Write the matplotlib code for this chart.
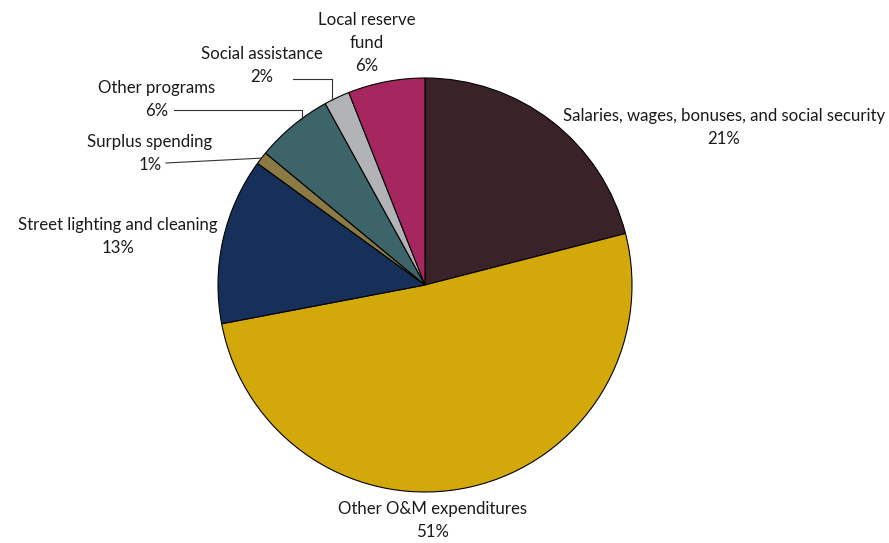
import matplotlib
matplotlib.use('Agg')
import numpy as np
import matplotlib.pyplot as plt

plt.rcParams['font.family'] = ['Lato', 'DejaVu Sans']

labels = ['Salaries, wages, bonuses, and social security', 'Other O&M expenditures',
          'Street lighting and cleaning', 'Surplus spending', 'Other programs',
          'Social assistance', 'Local reserve\nfund']
values = [21, 51, 13, 1, 6, 2, 6]
colors = ['#3a2328', '#d3a80a', '#17305a', '#8c7a45', '#3d6468', '#b1b3b6', '#a6275f']

W, H = 889, 543
CX, CY, R = 425, 285, 207

fig = plt.figure(figsize=(W / 100, H / 100), dpi=100)
ax = fig.add_axes([0, 0, 1, 1])

ax.pie(values, colors=colors, startangle=90, counterclock=False,
       center=(CX, H - CY), radius=R,
       wedgeprops=dict(edgecolor='black', linewidth=0.8))
ax.set_xlim(0, W)
ax.set_ylim(0, H)
ax.set_aspect('equal')
ax.axis('off')

# label positions in pixel coords (x center, y center of first line)
pos = [(724, 116), (432, 509), (118, 225), (150, 142), (157, 88), (262, 54), (367, 20)]
for lab, v, (x, y) in zip(labels, values, pos):
    ax.text(x, H - (y - 8), lab + '\n%d%%' % v, ha='center', va='top', fontsize=12.1,
            linespacing=1.55, color='#1a1a1a')

def edge_y(x):
    return CY - np.sqrt(R ** 2 - (x - CX) ** 2)

# leader lines
lc = dict(color='#333333', linewidth=0.8)
# social assistance
ax.plot([293, 332, 332], [H - 79, H - 79, H - edge_y(332)], **lc)
# other programs
ax.plot([174, 302, 302], [H - 110, H - 110, H - edge_y(302)], **lc)
# surplus spending
ang = np.deg2rad(90 - 360 * (sum(values[:3]) + values[3] / 2) / 100)
ax.plot([166, CX + R * np.cos(ang)], [H - 163, H - CY + R * np.sin(ang)], **lc)

fig.savefig('out.png', dpi=100)
